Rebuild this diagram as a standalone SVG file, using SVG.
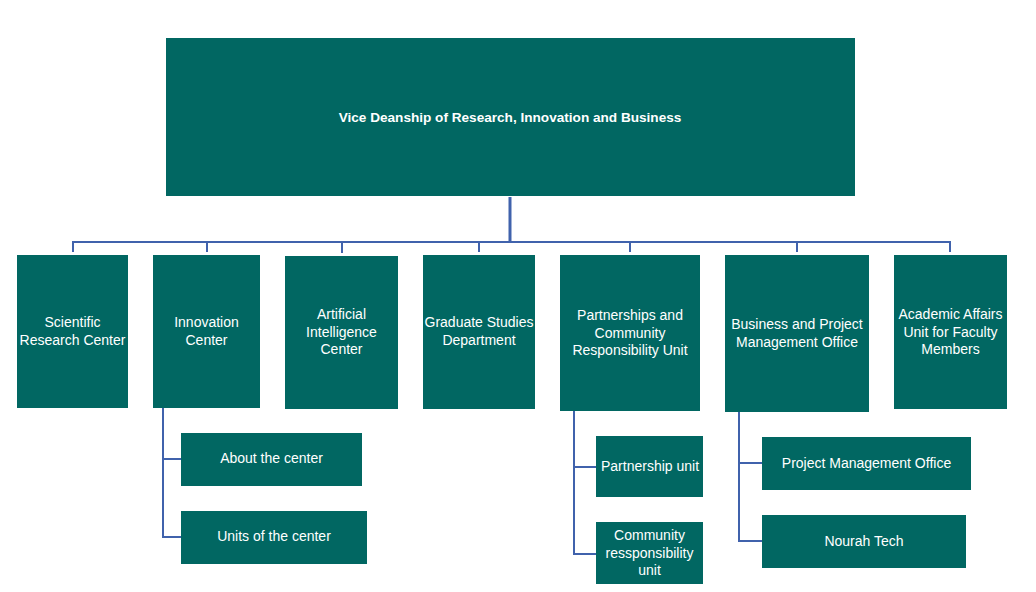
<svg xmlns="http://www.w3.org/2000/svg" width="1036" height="592" viewBox="0 0 1036 592">
<style>
.box{fill:#016762;}
.t{font-family:"Liberation Sans",Arial,sans-serif;font-size:14px;fill:#ffffff;text-anchor:middle;}
.tb{font-family:"Liberation Sans",Arial,sans-serif;font-size:13.6px;font-weight:bold;fill:#ffffff;text-anchor:middle;}
.c{fill:none;stroke:#4062AC;stroke-width:2;}
</style>
<rect width="1036" height="592" fill="#ffffff"/>
<g id="connectors">
<path class="c" d="M510,197 V242" style="stroke-width:3"/>
<path class="c" d="M73,252 V242 H950 V252"/>
<path class="c" d="M207,242 V252 M342,242 V253 M479,242 V252 M630,242 V252 M797,242 V252"/>
<path class="c" d="M163,408 V537 H181 M163,459 H181"/>
<path class="c" d="M574,411 V554 H596 M574,467 H596"/>
<path class="c" d="M739,412 V541 H762 M739,463 H762"/>
</g>
<g id="root"><rect class="box" x="166" y="38" width="689" height="158"/><text class="tb" x="510" y="122">Vice Deanship of Research, Innovation and Business</text></g>
<g id="scientific"><rect class="box" x="17" y="255" width="111" height="153"/><text class="t" x="72.5" y="327">Scientific</text><text class="t" x="72.5" y="345">Research Center</text></g>
<g id="innovation"><rect class="box" x="153" y="255" width="107" height="153"/><text class="t" x="206.5" y="327">Innovation</text><text class="t" x="206.5" y="345">Center</text></g>
<g id="ai"><rect class="box" x="285" y="256" width="113" height="153"/><text class="t" x="341.5" y="319">Artificial</text><text class="t" x="341.5" y="337">Intelligence</text><text class="t" x="341.5" y="354">Center</text></g>
<g id="graduate"><rect class="box" x="423" y="255" width="112" height="154"/><text class="t" x="479" y="327">Graduate Studies</text><text class="t" x="479" y="345">Department</text></g>
<g id="partnerships"><rect class="box" x="560" y="255" width="140" height="156"/><text class="t" x="630" y="320">Partnerships and</text><text class="t" x="630" y="338">Community</text><text class="t" x="630" y="355">Responsibility Unit</text></g>
<g id="business"><rect class="box" x="725" y="255" width="144" height="157"/><text class="t" x="797" y="329">Business and Project</text><text class="t" x="797" y="347">Management Office</text></g>
<g id="academic"><rect class="box" x="894" y="255" width="113" height="154"/><text class="t" x="950.5" y="319">Academic Affairs</text><text class="t" x="950.5" y="337">Unit for Faculty</text><text class="t" x="950.5" y="354">Members</text></g>
<g id="about"><rect class="box" x="181" y="433" width="181" height="53"/><text class="t" x="271.5" y="463">About the center</text></g>
<g id="units"><rect class="box" x="181" y="511" width="186" height="53"/><text class="t" x="274" y="541">Units of the center</text></g>
<g id="partnership-unit"><rect class="box" x="596" y="436" width="107" height="61"/><text class="t" x="650" y="471">Partnership unit</text></g>
<g id="community"><rect class="box" x="596" y="522" width="107" height="62"/><text class="t" x="649.5" y="540">Community</text><text class="t" x="649.5" y="558">ressponsibility</text><text class="t" x="649.5" y="575">unit</text></g>
<g id="pmo"><rect class="box" x="762" y="437" width="209" height="53"/><text class="t" x="866.5" y="468">Project Management Office</text></g>
<g id="nourah"><rect class="box" x="762" y="515" width="204" height="53"/><text class="t" x="864" y="546">Nourah Tech</text></g>
</svg>
